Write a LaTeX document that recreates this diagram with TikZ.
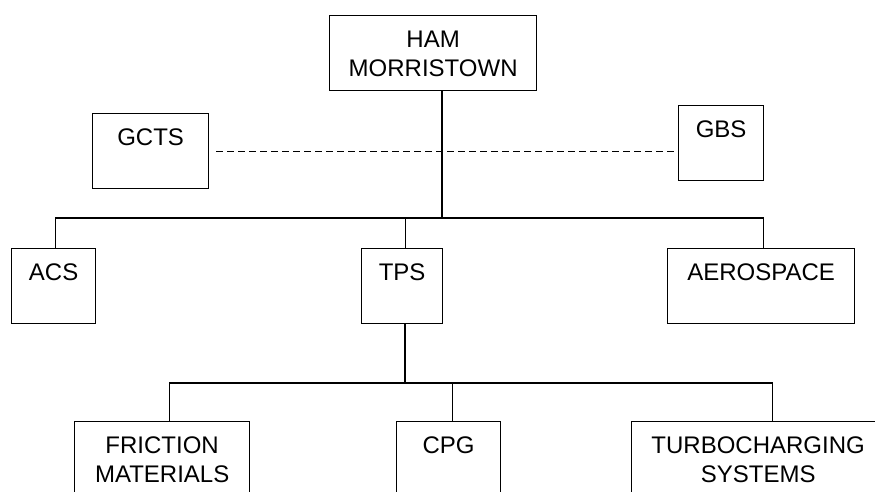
\documentclass[tikz,border=0pt]{standalone}
\usepackage{fontspec}
\setmainfont{Liberation Sans}
\tikzset{
  unit/.style={draw, line width=1.3pt, anchor=north west, inner sep=0pt,
    minimum width=#1, minimum height=75pt, text height=31.6pt, text depth=43.4pt},
  link/.style={line width=1.3pt}
}
\newcommand{\twolines}[2]{\begin{tabular}[t]{@{}c@{}}#1\\#2\end{tabular}}
\begin{document}
\begin{tikzpicture}[x=1pt,y=-1pt,font=\fontsize{24}{29}\selectfont]
	\useasboundingbox (0,0) rectangle (875,491);
	\clip (0,0) rectangle (875,491);
	% top level
	\node[unit=207pt] (ham) at (329,15) {\twolines{HAM}{MORRISTOWN}};
	\node[unit=116pt] (gcts) at (92,113) {GCTS};
	\node[unit=85pt] (gbs) at (678,105) {GBS};
	% second row
	\node[unit=84pt] (acs) at (11,248) {ACS};
	\node[unit=81pt] (tps) at (361,248) {TPS};
	\node[unit=187pt] (aero) at (667,248) {AEROSPACE};
	% third row
	\node[unit=175pt] (fric) at (74,421) {\twolines{FRICTION}{MATERIALS}};
	\node[unit=104pt] (cpg) at (396,421) {CPG};
	\node[unit=253pt] (turbo) at (631,421) {\twolines{TURBOCHARGING}{SYSTEMS}};
	\coordinate (bus1) at (442,218);
	\coordinate (bus2) at (405,383);
	\draw[link] (ham.south -| bus1) -- (bus1);
	\draw[link] ([xshift=2pt]acs.north) |- (bus1) -| ([xshift=2.5pt]aero.north);
	\draw[link] ([xshift=3.5pt]tps.north) -- ([xshift=3.5pt]tps.north |- bus1);
	\draw[link] (tps.south -| bus2) -- (bus2);
	\draw[link] ([xshift=7.5pt]fric.north) |- (bus2) -| ([xshift=14.5pt]turbo.north);
	\draw[link] ([xshift=4pt]cpg.north) -- ([xshift=4pt]cpg.north |- bus2);
	%\draw[link,dashed] (gcts) -- (gbs);
	\draw[link,dash pattern=on 7pt off 4pt,shorten <=7pt] (gcts.east) -- (gcts.east -| gbs.west);
\end{tikzpicture}
\end{document}
